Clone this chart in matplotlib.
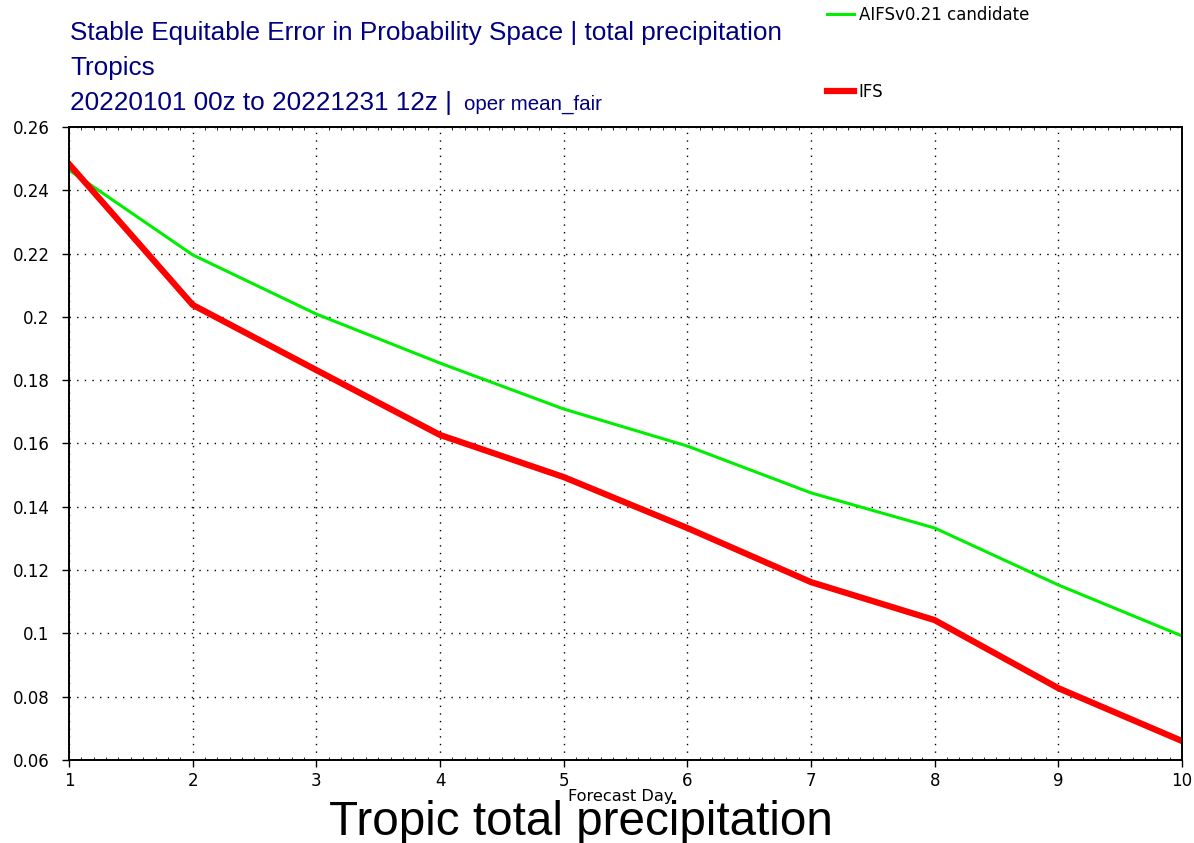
import numpy as np
import matplotlib.pyplot as plt
from matplotlib.ticker import MultipleLocator

# Forecast days and scores
days = [1, 2, 3, 4, 5, 6, 7, 8, 9, 10]
aifs = [0.2464, 0.2196, 0.2009, 0.1854, 0.1709, 0.1592, 0.1444, 0.1333, 0.1153, 0.0992]
ifs = [0.2483, 0.2038, 0.1832, 0.1627, 0.1494, 0.1333, 0.1162, 0.1042, 0.0827, 0.0660]
yticks = [0.06, 0.08, 0.1, 0.12, 0.14, 0.16, 0.18, 0.2, 0.22, 0.24, 0.26]
ytick_labels = ['0.06', '0.08', '0.1', '0.12', '0.14', '0.16', '0.18', '0.2', '0.22', '0.24', '0.26']

fig = plt.figure(figsize=(11.94, 8.43), dpi=100)
ax = fig.add_axes([69 / 1194, 1 - 760 / 843, (1182 - 69) / 1194, (760 - 127) / 843])

l1, = ax.plot(days, aifs, color='#00ee00', lw=2.2, label='AIFSv0.21 candidate')
l2, = ax.plot(days, ifs, color='#ff0000', lw=4.5, label='IFS')

ax.set_xlim(1, 10)
ax.set_ylim(0.06, 0.26)
ax.set_xticks(days)
ax.set_yticks(yticks)
ax.set_yticklabels(ytick_labels)
ax.xaxis.set_minor_locator(MultipleLocator(0.1))
ax.tick_params(which='major', direction='out', length=5, width=1, labelsize=12, top=False, right=False)
ax.tick_params(axis='y', pad=9)
ax.tick_params(which='minor', direction='in', length=2, width=0.6, top=True, bottom=True)
ax.grid(True, which='major', color='black', linestyle=(0, (1, 4.5)), linewidth=1)
for s in ax.spines.values():
    s.set_linewidth(1.4)

# axis label and big caption (the caption's descenders run off the bottom, as in the source)
fig.text(621 / 1194, 1 - 796 / 843, 'Forecast Day', ha='center', va='center', fontsize=11.6)
fig.text(581 / 1194, 1 - 835 / 843, 'Tropic total precipitation', ha='center', va='baseline',
         fontsize=34.3, family='Liberation Sans')

navy = '#000080'
fig.text(70 / 1194, 1 - 40 / 843, 'Stable Equitable Error in Probability Space | total precipitation',
         fontsize=18.8, color=navy, family='Liberation Sans')
fig.text(70 / 1194, 1 - 75 / 843, 'Tropics', fontsize=18.8, color=navy, family='Liberation Sans')
fig.text(70 / 1194, 1 - 110 / 843, '20220101 00z to 20221231 12z |', fontsize=18.8, color=navy,
         family='Liberation Sans')
fig.text(464 / 1194, 1 - 110 / 843, 'oper mean_fair', fontsize=14.8, color=navy, family='Liberation Sans')

fig.legend([l1], ['AIFSv0.21 candidate'], loc='center left', bbox_to_anchor=(812 / 1194, 1 - 15 / 843),
           frameon=False, fontsize=12, handlelength=1.6, handletextpad=0.3)
fig.legend([l2], ['IFS'], loc='center left', bbox_to_anchor=(812 / 1194, 1 - 92 / 843),
           frameon=False, fontsize=12, handlelength=1.6, handletextpad=0.3)

fig.savefig('out.png', dpi=100)
